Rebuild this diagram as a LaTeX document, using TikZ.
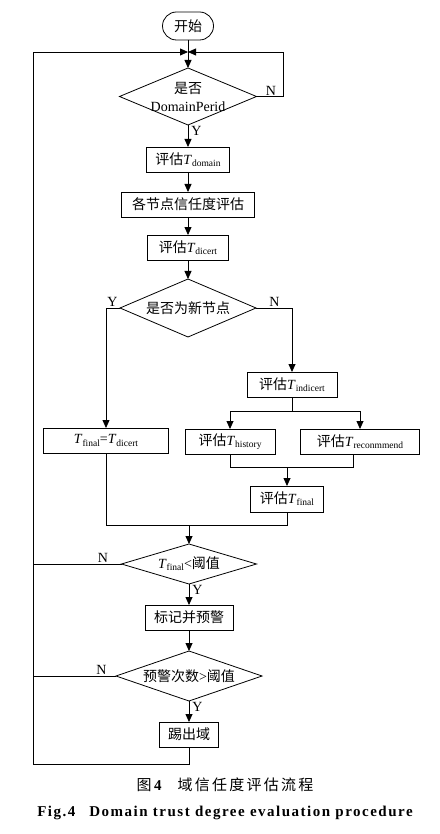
\documentclass[tikz,border=0pt]{standalone}
\usepackage{fontspec}
\setmainfont{Liberation Serif}
\newfontfamily\cjk{Noto Sans CJK SC}
\newfontfamily\cjkcap[LetterSpace=15]{Noto Sans CJK SC}
\newfontfamily\capfont[LetterSpace=10]{Liberation Serif}
\usepackage{tikz}
\usetikzlibrary{positioning,arrows.meta,shapes.geometric,calc}

\newcommand{\zh}[1]{{\cjk #1}}
\newcommand{\Tsub}[1]{\textit{T}\raisebox{-0.35ex}{\fontsize{9.5}{10}\selectfont #1}}

\begin{document}
\begin{tikzpicture}[x=1pt,y=1pt,
  font=\fontsize{14}{18}\selectfont,
  line width=0.8pt,
  node distance=20pt,
  box/.style={draw,align=center,minimum height=25pt,inner sep=2pt,outer sep=0pt},
  dec/.style={draw,diamond,align=center,inner sep=0pt,outer sep=0pt,aspect=2.35,
              minimum width=136pt,minimum height=58pt},
  term/.style={draw,rounded corners=14pt,minimum width=51pt,
               minimum height=28pt,inner sep=2pt,outer sep=0pt},
  lbl/.style={inner sep=1pt},
  ar/.style={-{Triangle[length=8pt,width=7pt]}}
]
\useasboundingbox (0,0) rectangle (439,-834);
% main column
\node[term] (start) at (188,-26) {\zh{开始}};
\coordinate (join) at ($(start.south)+(0,-12)$);
\node[dec,below=28pt of start,aspect=2.4,inner sep=-3pt,
      minimum width=137pt,minimum height=57pt] (d1)
   {\zh{是否}\\DomainPerid};
\node[box,below=22pt of d1,minimum width=83pt] (b1) {\zh{评估}\Tsub{domain}};
\node[box,below=20pt of b1,minimum width=133pt] (b2) {\zh{各节点信任度评估}};
\node[box,below=18pt of b2,minimum width=81pt] (b3) {\zh{评估}\Tsub{dicert}};
\node[dec,below=19pt of b3] (d2) {\zh{是否为新节点}};
% branches
\node[box,below=120pt of d2.west,xshift=-14pt,minimum width=125pt] (b4)
   {\Tsub{final}=\Tsub{dicert}};
\node[box,below=64pt of d2.east,xshift=36pt,minimum width=90pt] (b5)
   {\zh{评估}\Tsub{indicert}};
\node[box,below=32pt of b5,xshift=-62pt,minimum width=90pt] (b6)
   {\zh{评估}\Tsub{history}};
\node[box,below=32pt of b5,xshift=68pt,minimum width=119pt] (b7)
   {\zh{评估}\Tsub{reconmmend}};
\node[box,below=32pt of b6.south,xshift=57pt,minimum width=73pt,minimum height=26pt] (b8)
   {\zh{评估}\Tsub{final}};
\coordinate (sp) at ($(b5.south)+(0,-14)$);
\coordinate (mg) at ($(b6.south)+(0,-13)$);
\coordinate (mg2) at ($(b8.south)+(0,-13)$);
% lower column
\node[dec,aspect=3.4,minimum width=135pt,minimum height=40pt] (d3) at ($(mg2 -| d2)+(1,-39)$)
   {\Tsub{final}<\zh{阈值}};
\node[box,below=21pt of d3,minimum width=88pt] (b9) {\zh{标记并预警}};
\node[dec,below=21pt of b9,aspect=2.9,minimum width=146pt,minimum height=50pt] (d4)
   {\zh{预警次数}>\zh{阈值}};
\node[box,below=21pt of d4,minimum width=59pt] (b10) {\zh{踢出域}};
\coordinate (loopL) at ($(b10.south)+(-156,-17)$);
% labels
\node[lbl,anchor=north west] at ([xshift=2pt]d1.south) {Y};
\node[lbl,anchor=south west] at ([xshift=8pt]d1.east) {N};
\node[lbl,anchor=south east] at ([xshift=-1pt]d2.west) {Y};
\node[lbl,anchor=south west] at ([xshift=12pt]d2.east) {N};
\node[lbl,anchor=south east] at ([xshift=-12pt]d3.west) {N};
\node[lbl,anchor=north west] at ([xshift=2pt]d3.south) {Y};
\node[lbl,anchor=south east] at ([xshift=-8pt]d4.west) {N};
\node[lbl,anchor=north west] at ([xshift=2pt]d4.south) {Y};
% connectors
\draw[ar] (start) -- (d1);
\draw[ar] (d1.east) -- ++(27,0) |- (join);
\draw[ar] (d1) -- (b1);
\draw[ar] (b1) -- (b2);
\draw[ar] (b2) -- (b3);
\draw[ar] (b3) -- (d2);
\draw[ar] (d2.west) -| (b4);
\draw[ar] (d2.east) -| (b5);
\draw (b5.south) -- (sp);
\draw[ar] (sp) -| (b6);
\draw[ar] (sp) -| (b7);
\draw (b6.south) -- (mg) -| ([xshift=-7pt]b7.south);
\draw[ar] (mg -| b8) -- (b8);
\draw (b4.south) |- (mg2) -- (b8.south);
\draw[ar] (mg2 -| d3) -- (d3);
\draw[ar] (d3) -- (b9);
\draw[ar] (b9) -- (d4);
\draw[ar] (d4) -- (b10);
\draw (d3.west) -- (d3.west -| loopL);
\draw (d4.west) -- (d4.west -| loopL);
\draw[ar] (b10.south) |- (loopL) |- (join);
% caption
\node (capzh) at (225,-785) {\fontsize{15}{18}\selectfont{\cjkcap 图}\,\textbf{4}\hspace{16pt}{\cjkcap 域信任度评估流程}};
\node (capen) at (225,-813) {\fontsize{15}{18}\selectfont\capfont\bfseries Fig.4\hspace{14pt}Domain trust degree evaluation procedure};
\end{tikzpicture}
\end{document}
